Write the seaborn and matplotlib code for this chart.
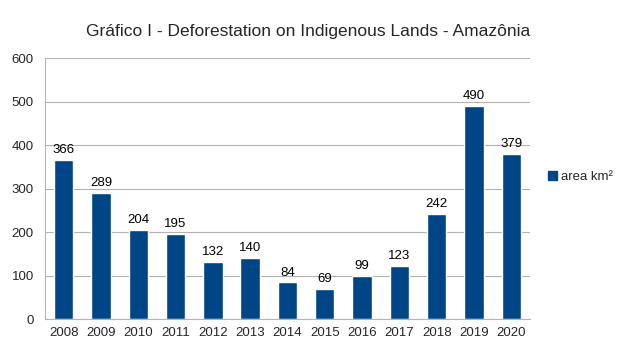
import pandas as pd
import matplotlib.pyplot as plt
import seaborn as sns
import matplotlib.patches as mpatches

years = ['2008', '2009', '2010', '2011', '2012', '2013', '2014',
         '2015', '2016', '2017', '2018', '2019', '2020']
area_km2 = [366, 289, 204, 195, 132, 140, 84, 69, 99, 123, 242, 490, 379]
series_name = 'area km²'
title = 'Gráfico I - Deforestation on Indigenous Lands - Amazônia'

df = pd.DataFrame({'ano': years, 'area': area_km2})

sns.set_style('white')
plt.rcParams['font.family'] = ['Liberation Sans', 'DejaVu Sans']

bar_color = '#004586'
grid_color = '#b3b3b3'

fig = plt.figure(figsize=(6.23, 3.57), dpi=100)
ax = fig.add_axes([0.0722, 0.1064, 0.7785, 0.7311])

sns.barplot(data=df, x='ano', y='area', color=bar_color, width=0.52,
            saturation=1, ax=ax)

for i, v in enumerate(area_km2):
    ax.text(i, v + 9, str(v), ha='center', va='bottom', fontsize=9.5,
            color='black')

ax.set_ylim(0, 600)
ax.set_yticks(range(0, 601, 100))
ax.set_xlim(-0.5, len(years) - 0.5)
ax.yaxis.grid(True, color=grid_color, linewidth=0.8)
ax.set_axisbelow(True)
ax.set_xlabel('')
ax.set_ylabel('')

for side in ['top', 'right']:
    ax.spines[side].set_visible(False)
for side in ['left', 'bottom']:
    ax.spines[side].set_color(grid_color)
    ax.spines[side].set_linewidth(0.8)

# ticks do eixo x entre as categorias
ax.set_xticks([i - 0.5 for i in range(len(years) + 1)], minor=True)
ax.tick_params(axis='x', which='major', length=0, labelsize=9.5, pad=6)
ax.tick_params(axis='x', which='minor', length=5, color=grid_color,
               width=0.8, direction='out')
ax.tick_params(axis='y', length=5, color=grid_color, width=0.8,
               labelsize=9.5, pad=3, direction='out')

fig.text(0.495, 0.913, title, ha='center', va='center', fontsize=12.5)

handle = mpatches.Patch(color=bar_color, label=series_name)
fig.legend(handles=[handle], loc='center left', bbox_to_anchor=(0.860, 0.505),
           frameon=False, fontsize=9.5, handlelength=0.7, handleheight=0.7,
           handletextpad=0.3)

plt.savefig('out.png', dpi=100, facecolor='white')
plt.close()
